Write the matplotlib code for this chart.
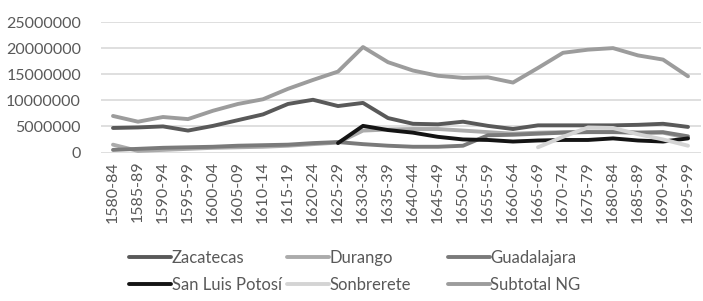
import matplotlib.pyplot as plt
from matplotlib.ticker import FixedLocator

periods = ["1580-84", "1585-89", "1590-94", "1595-99", "1600-04", "1605-09",
           "1610-14", "1615-19", "1620-24", "1625-29", "1630-34", "1635-39",
           "1640-44", "1645-49", "1650-54", "1655-59", "1660-64", "1665-69",
           "1670-74", "1675-79", "1680-84", "1685-89", "1690-94", "1695-99"]

# values in millions
zacatecas = [4.7, 4.8, 5.0, 4.2, 5.1, 6.2, 7.3, 9.3, 10.1, 8.9, 9.5, 6.6,
             5.5, 5.4, 5.9, 5.1, 4.5, 5.2, 5.2, 5.2, 5.2, 5.3, 5.5, 4.9]
durango = [1.5, 0.3, 0.5, 0.7, 0.9, 1.0, 1.1, 1.3, 1.6, 1.9, 4.2, 4.4,
           4.5, 4.5, 4.2, 3.9, 3.6, 3.8, 3.9, 4.0, 4.0, 3.8, 3.8, 2.8]
guadalajara = [0.5, 0.7, 0.9, 1.0, 1.1, 1.3, 1.4, 1.5, 1.8, 2.0, 1.6, 1.3,
               1.1, 1.1, 1.3, 3.3, 3.4, 3.6, 3.8, 3.9, 3.9, 3.8, 3.9, 3.1]
slp = [None] * 9 + [1.8, 5.1, 4.3, 3.8, 3.0, 2.5, 2.4, 2.1, 2.3, 2.4, 2.4,
                    2.7, 2.3, 2.1, 2.7]
sombrerete = [None] * 17 + [1.0, 3.0, 4.8, 4.7, 3.5, 2.5, 1.3]
subtotal = [7.0, 5.9, 6.8, 6.4, 8.0, 9.3, 10.2, 12.2, 13.9, 15.5, 20.2, 17.3,
            15.7, 14.7, 14.3, 14.4, 13.4, 16.2, 19.1, 19.7, 20.0, 18.6, 17.8, 14.6]

series = [
    ("Zacatecas", zacatecas, "#595959"),
    ("Durango", durango, "#ababab"),
    ("Guadalajara", guadalajara, "#7a7a7a"),
    ("San Luis Potosí", slp, "#141414"),
    ("Sonbrerete", sombrerete, "#d4d4d4"),
    ("Subtotal NG", subtotal, "#9c9c9c"),
]

plt.rcParams['font.family'] = ['Lato', 'DejaVu Sans']
text_col = "#595959"

fig = plt.figure(figsize=(7.03, 3.01), dpi=100)
ax = fig.add_axes([100.5 / 703, 1 - 152.5 / 301, 600 / 703, 130.5 / 301])

x = list(range(len(periods)))
lines = []
for name, vals, col in series:
    xs = [i for i, v in zip(x, vals) if v is not None]
    ys = [v * 1e6 for v in vals if v is not None]
    ln, = ax.plot(xs, ys, color=col, lw=2.8, label=name, solid_capstyle='round')
    lines.append(ln)

ax.set_xlim(-0.5, len(periods) - 0.5)
ax.set_ylim(0, 25e6)
ax.yaxis.set_major_locator(FixedLocator([0, 5e6, 10e6, 15e6, 20e6, 25e6]))
ax.set_yticklabels(["0", "5000000", "10000000", "15000000", "20000000", "25000000"])
ax.set_xticks(x)
ax.set_xticklabels(periods, rotation=90)
ax.tick_params(axis='both', length=0, labelsize=11.5, colors=text_col)
ax.tick_params(axis='y', pad=14)
ax.tick_params(axis='x', pad=6)
ax.grid(axis='y', color='#d9d9d9', lw=1.2)
ax.set_axisbelow(True)
for s in ax.spines.values():
    s.set_visible(False)

# legend, one column at a time
col_x = [129, 287, 448]
for c in range(3):
    fig.legend(handles=[lines[c], lines[c + 3]], loc='upper left',
               bbox_to_anchor=(col_x[c] / 703, 1 - 250 / 301),
               frameon=False, fontsize=12, handlelength=2.5,
               handletextpad=0.05, labelspacing=0.65, borderpad=0,
               borderaxespad=0, labelcolor=text_col)

plt.savefig("out.png", dpi=100)
